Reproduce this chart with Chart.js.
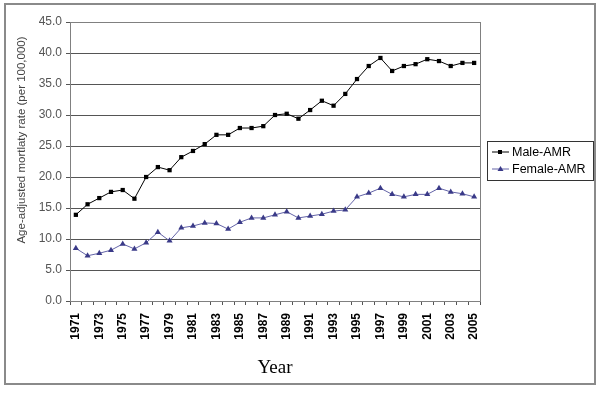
<!DOCTYPE html>
<html>
<head>
<meta charset="utf-8">
<script src="https://cdn.jsdelivr.net/npm/chart.js@4"></script>
<style>
  html, body { margin: 0; padding: 0; background: #fff; }
  #wrap { width: 600px; height: 393px; position: relative; }
</style>
</head>
<body>
<div id="wrap"><canvas id="amrChart" width="600" height="393"></canvas></div>
<script>
// years 1971-2005
const years = [
  '1971','1972','1973','1974','1975','1976','1977','1978','1979','1980',
  '1981','1982','1983','1984','1985','1986','1987','1988','1989','1990',
  '1991','1992','1993','1994','1995','1996','1997','1998','1999','2000',
  '2001','2002','2003','2004','2005'
];
const maleAMR = [
  13.9, 15.6, 16.6, 17.6, 17.9, 16.5, 20.0, 21.6, 21.1, 23.2,
  24.2, 25.3, 26.8, 26.8, 27.9, 27.9, 28.2, 30.0, 30.2, 29.4,
  30.8, 32.3, 31.5, 33.4, 35.8, 37.9, 39.2, 37.1, 37.9, 38.2,
  39.0, 38.7, 37.9, 38.4, 38.4
];
const femaleAMR = [
  8.5, 7.3, 7.7, 8.2, 9.2, 8.4, 9.4, 11.1, 9.7, 11.8,
  12.1, 12.6, 12.5, 11.6, 12.7, 13.4, 13.4, 13.9, 14.4, 13.4,
  13.7, 14.0, 14.5, 14.7, 16.8, 17.4, 18.2, 17.2, 16.8, 17.2,
  17.2, 18.2, 17.6, 17.3, 16.8
];
const yTicks = [0, 5, 10, 15, 20, 25, 30, 35, 40, 45];
const yTitle = 'Age-adjusted mortlaty rate (per 100,000)';

const femaleColor = '#6464a8';

// outer frame, plot border, y title (sits a bit above centre) and boxed legend
const framePlugin = {
    id: 'frame',
    beforeDraw: function(chart) {
        const ctx = chart.ctx;
        ctx.save();
        ctx.fillStyle = '#fff';
        ctx.fillRect(0, 0, chart.width, chart.height);
        ctx.strokeStyle = '#8a8a8a';
        ctx.lineWidth = 2;
        ctx.strokeRect(5, 4, 590, 380);
        ctx.restore();
    },
    afterDraw: function(chart) {
        const ctx = chart.ctx;
        const a = chart.chartArea;
        ctx.save();
        ctx.strokeStyle = '#808080';
        ctx.lineWidth = 1;
        ctx.strokeRect(a.left + 0.5, a.top + 0.5, a.right - a.left, a.bottom - a.top);

        // y axis title
        ctx.save();
        ctx.translate(22, 140);
        ctx.rotate(-Math.PI / 2);
        ctx.font = '11.5px Arial, "Liberation Sans", sans-serif';
        ctx.fillStyle = '#444';
        ctx.textAlign = 'center';
        ctx.textBaseline = 'middle';
        ctx.fillText(yTitle, 0, 0);
        ctx.restore();

        // legend
        const lx = 487, ly = 141, lw = 106, lh = 39;
        ctx.strokeStyle = '#333';
        ctx.strokeRect(lx + 0.5, ly + 0.5, lw, lh);
        ctx.font = '12.5px Arial, "Liberation Sans", sans-serif';
        ctx.textBaseline = 'middle';
        const items = [
            { text: 'Male-AMR', color: '#000', style: 'rect' },
            { text: 'Female-AMR', color: femaleColor, style: 'triangle' }
        ];
        items.forEach(function(it, i) {
            const cy = ly + 11 + i * 17;
            ctx.strokeStyle = it.color;
            ctx.beginPath();
            ctx.moveTo(lx + 5, cy);
            ctx.lineTo(lx + 22, cy);
            ctx.stroke();
            ctx.fillStyle = it.style === 'rect' ? '#000' : '#3a3a88';
            if (it.style === 'rect') {
                ctx.fillRect(lx + 11, cy - 2, 4, 4);
            } else {
                ctx.beginPath();
                ctx.moveTo(lx + 13.5, cy - 3);
                ctx.lineTo(lx + 16.5, cy + 2);
                ctx.lineTo(lx + 10.5, cy + 2);
                ctx.closePath();
                ctx.fill();
            }
            ctx.fillStyle = '#000';
            ctx.fillText(it.text, lx + 25, cy + 1);
        });
        ctx.restore();
    }
};

const ctx = document.getElementById('amrChart').getContext('2d');
new Chart(ctx, {
    type: 'line',
    data: {
        labels: years,
        datasets: [
            {
                label: 'Male-AMR',
                data: maleAMR,
                borderColor: '#000',
                backgroundColor: '#000',
                borderWidth: 1,
                tension: 0,
                pointStyle: 'rect',
                pointRadius: 3,
                pointBorderWidth: 0,
                pointBackgroundColor: '#000'
            },
            {
                label: 'Female-AMR',
                data: femaleAMR,
                borderColor: femaleColor,
                backgroundColor: '#3a3a88',
                borderWidth: 1,
                tension: 0,
                pointStyle: 'triangle',
                pointRadius: 3.5,
                pointBorderWidth: 0,
                pointBackgroundColor: '#3a3a88'
            }
        ]
    },
    options: {
        responsive: false,
        animation: false,
        devicePixelRatio: 1,
        layout: {
            padding: { left: 30, right: 120, top: 22, bottom: 14 }
        },
        plugins: {
            legend: { display: false },
            tooltip: { enabled: false }
        },
        scales: {
            x: {
                offset: true,
                grid: {
                    display: true,
                    offset: true,
                    drawOnChartArea: false,
                    drawTicks: true,
                    tickLength: 4,
                    color: '#555'
                },
                border: { color: '#555' },
                ticks: {
                    autoSkip: false,
                    minRotation: 90,
                    maxRotation: 90,
                    padding: 8,
                    color: '#000',
                    font: { family: 'Arial, "Liberation Sans", sans-serif', size: 12, weight: 'bold' },
                    callback: function(value, index) {
                        return index % 2 === 0 ? years[index] : '';
                    }
                },
                title: {
                    display: true,
                    text: 'Year',
                    color: '#000',
                    padding: { top: 8, bottom: 0 },
                    font: { family: '"Liberation Serif", "Times New Roman", serif', size: 19 }
                },
                afterFit: function(scale) { scale.height = 78; }
            },
            y: {
                min: 0,
                max: 45,
                afterBuildTicks: function(scale) {
                    scale.ticks = yTicks.map(function(v) { return { value: v }; });
                },
                grid: {
                    color: '#555',
                    lineWidth: 1,
                    tickLength: 4
                },
                border: { color: '#555' },
                ticks: {
                    padding: 4,
                    color: '#555',
                    font: { family: 'Arial, "Liberation Sans", sans-serif', size: 12 },
                    callback: function(value) { return value.toFixed(1); }
                },
                afterFit: function(scale) { scale.width = 40; }
            }
        }
    },
    plugins: [framePlugin]
});
</script>
</body>
</html>
